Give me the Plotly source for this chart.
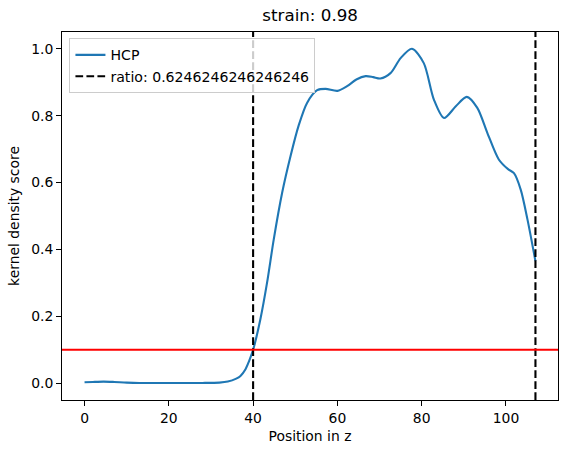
import plotly.graph_objects as go

# values
z_pos = [0, 2, 4.5, 7, 10, 13, 20, 28, 32, 34, 36, 37, 38.2, 39, 40,
         41.7, 43.3, 44.9, 46.9, 48.9, 50.8, 52.8, 55.2, 57.2, 60.0,
         62.3, 64.5, 66.7, 68.5, 70.2, 72.6, 75.0, 77.7, 80.5, 82.9,
         85.3, 88.1, 90.7, 93.2, 95.6, 98.3, 100.5, 101.9, 103.5, 105.1, 107]
hcp_score = [0.003, 0.004, 0.005, 0.004, 0.002, 0.001, 0.001, 0.001, 0.002, 0.005,
             0.014, 0.022, 0.042, 0.065, 0.10,
             0.19, 0.30, 0.43, 0.57, 0.68, 0.77, 0.838, 0.876, 0.88, 0.874,
             0.888, 0.908, 0.918, 0.915, 0.911, 0.927, 0.972, 1.0, 0.957, 0.848,
             0.793, 0.828, 0.856, 0.823, 0.748, 0.669, 0.64, 0.628, 0.579, 0.49, 0.365]

bounds = [40, 107]
threshold = 0.1
ratio = 0.6246246246246246
strain = 0.98

FONT = "DejaVu Sans"
dash = "7.7px,3.3px"

fig = go.Figure()

fig.add_trace(go.Scatter(
    x=z_pos, y=hcp_score,
    mode="lines",
    name="HCP",
    line=dict(color="#1f77b4", width=2.1, shape="spline", smoothing=0.8),
))

# vertical boundary lines, first one carries the legend entry
for i, b in enumerate(bounds):
    fig.add_shape(
        type="line", x0=b, x1=b, y0=0, y1=1,
        xref="x", yref="y domain",
        line=dict(color="black", width=2.1, dash=dash),
        name=f"ratio: {ratio}",
        showlegend=(i == 0),
    )

fig.add_shape(
    type="line", x0=0, x1=1, y0=threshold, y1=threshold,
    xref="x domain", yref="y",
    line=dict(color="red", width=2.1),
)

axis_style = dict(
    showgrid=False, zeroline=False, automargin=False,
    showline=True, linecolor="black", linewidth=1, mirror=True,
    ticks="outside", ticklen=5, tickwidth=1, tickcolor="black",
    tickfont=dict(family=FONT, size=13.9, color="black"),
)

fig.update_layout(
    width=567, height=454,
    margin=dict(l=62, r=9, t=32, b=54),
    paper_bgcolor="white", plot_bgcolor="white",
    font=dict(family=FONT, size=13.9, color="black"),
    title=dict(text=f"strain: {strain}", x=0.547, xanchor="center",
               y=0.966, yanchor="middle", automargin=False,
               font=dict(family=FONT, size=16.7, color="black")),
    xaxis=dict(range=[-5.35, 112.35], tickvals=[0, 20, 40, 60, 80, 100],
               title=dict(text="Position in z", standoff=6,
                          font=dict(family=FONT, size=13.9)),
               **axis_style),
    yaxis=dict(range=[-0.05, 1.05], tickvals=[0, 0.2, 0.4, 0.6, 0.8, 1.0],
               tickformat=".1f",
               title=dict(text="kernel density score", standoff=8,
                          font=dict(family=FONT, size=13.9)),
               **axis_style),
    legend=dict(x=0.015, y=0.983, xanchor="left", yanchor="top",
                bgcolor="rgba(255,255,255,0.8)", bordercolor="#cccccc",
                borderwidth=1, font=dict(family=FONT, size=14.1),
                itemwidth=30),
    showlegend=True,
)

# drop the default page margin so the figure sits at the window corner
fig.write_html("out.html", config={"displayModeBar": False},
               post_script="document.body.style.margin='0';")
